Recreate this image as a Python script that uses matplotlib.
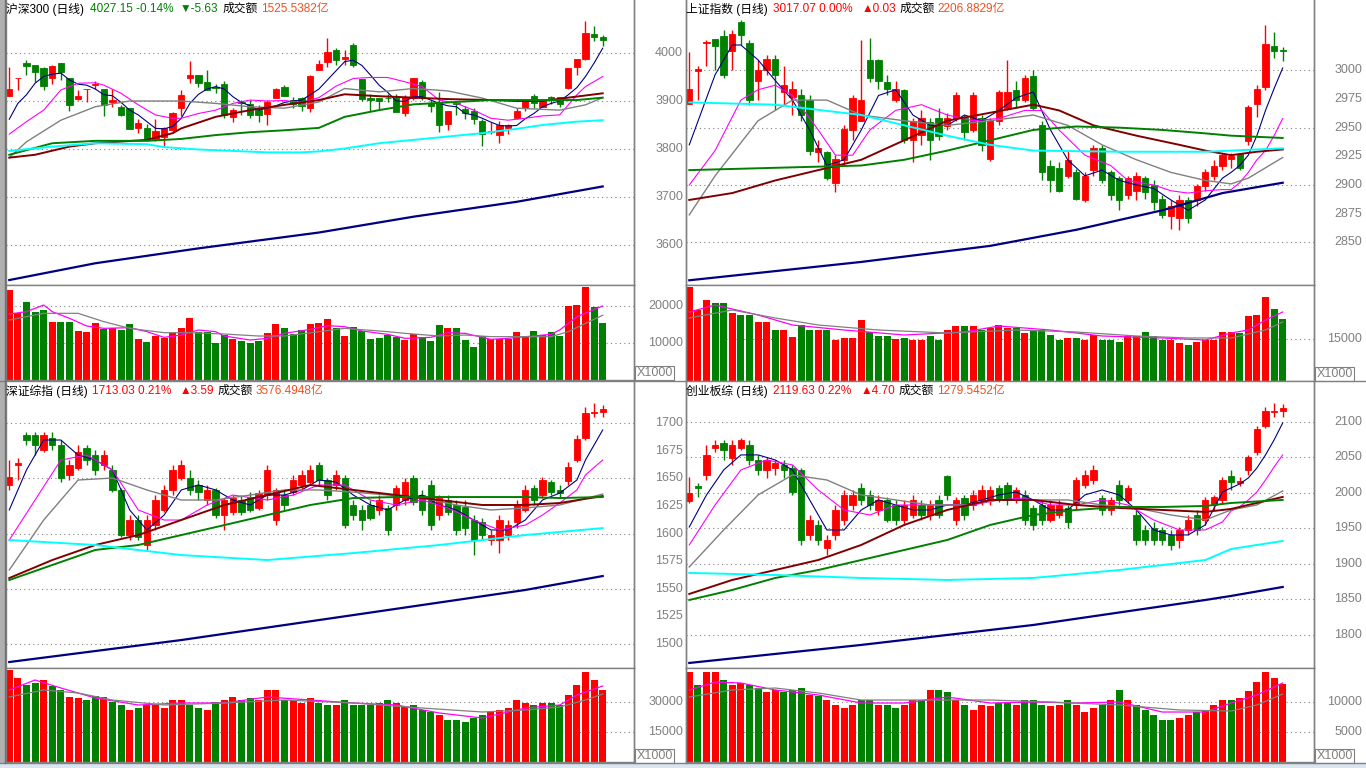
import matplotlib
matplotlib.use('Agg')
import matplotlib.pyplot as plt
from matplotlib.lines import Line2D
from matplotlib.patches import Rectangle
import numpy as np

W, H = 1366, 768
plt.rcParams['font.family'] = ['Liberation Sans', 'Noto Sans CJK SC', 'DejaVu Sans']

RED = '#ff0000'
GREEN = '#008000'
GRAY = '#808080'
ORANGE = '#f05020'

# ---------------- 沪深300 ----------------
hs300_open = [3911, 3947, 3980, 3976, 3969, 3947, 3980, 3948, 3904, 3924, 3934, 3925, 3897, 3887, 3885, 3843, 3843, 3820, 3824, 3840,
              3886, 3947, 3954, 3940, 3930, 3935, 3867, 3897, 3893, 3881, 3873, 3907, 3930, 3903, 3906, 3885, 3964, 3982, 4006, 3987,
              4017, 3946, 3906, 3906, 3907, 3906, 3876, 3906, 3939, 3895, 3895, 3853, 3895, 3883, 3879, 3858, 3836, 3829, 3843, 3865,
              3886, 3911, 3888, 3909, 3909, 3928, 3971, 3987, 4039, 4034]
hs300_high = [3971, 3948, 3985, 3976, 3971, 3975, 3980, 3948, 3923, 3925, 3942, 3925, 3925, 3892, 3885, 3862, 3853, 3862, 3845, 3878,
              3923, 3983, 3954, 3965, 3935, 3942, 3885, 3902, 3902, 3892, 3902, 3928, 3933, 3909, 3909, 3955, 3985, 4032, 4010, 4006,
              4021, 3946, 3914, 3907, 3914, 3914, 3912, 3947, 3944, 3902, 3918, 3879, 3897, 3890, 3885, 3862, 3857, 3858, 3853, 3885,
              3902, 3914, 3900, 3911, 3909, 3969, 3987, 4067, 4056, 4037]
hs300_low = [3911, 3923, 3954, 3940, 3923, 3935, 3944, 3879, 3902, 3897, 3925, 3869, 3888, 3869, 3842, 3834, 3817, 3817, 3807, 3833,
             3869, 3937, 3930, 3923, 3916, 3865, 3857, 3871, 3864, 3856, 3850, 3907, 3910, 3885, 3880, 3878, 3964, 3971, 3974, 3975,
             3971, 3899, 3879, 3883, 3897, 3878, 3869, 3902, 3902, 3878, 3835, 3840, 3871, 3862, 3853, 3807, 3831, 3812, 3831, 3862,
             3879, 3885, 3888, 3893, 3888, 3925, 3954, 3985, 4025, 4015]
hs300_close = [3925, 3948, 3973, 3961, 3932, 3973, 3960, 3892, 3911, 3925, 3935, 3892, 3902, 3871, 3842, 3855, 3818, 3837, 3843, 3876,
               3912, 3954, 3938, 3923, 3928, 3871, 3881, 3895, 3871, 3871, 3897, 3926, 3910, 3893, 3890, 3952, 3978, 4003, 3985, 3992,
               3974, 3904, 3903, 3900, 3906, 3878, 3908, 3947, 3909, 3890, 3851, 3879, 3893, 3876, 3862, 3831, 3838, 3851, 3850, 3879,
               3902, 3895, 3900, 3906, 3893, 3969, 3987, 4042, 4034, 4027]
hs300_vol = [24320, 18200, 21080, 18380, 18920, 15680, 15680, 15680, 13240, 12970, 15400, 13870, 14140, 13510, 15140, 11080, 10270, 11890, 11350, 12700,
             14050, 16760, 12970, 12970, 10000, 12160, 11080, 10540, 10000, 10540, 12700, 15140, 14050, 12430, 13510, 15140, 15400, 16490, 14050, 11890,
             14320, 13240, 11080, 11350, 12160, 11620, 10810, 12430, 11620, 10540, 14860, 14050, 14050, 10810, 8920, 11890, 11080, 11080, 11080, 12970,
             11620, 13240, 12160, 12970, 11890, 20090, 20360, 25220, 19820, 15400]
hs300_ma5 = [(0, 3862), (1, 3895), (2, 3913), (3, 3937), (4, 3951), (5, 3956), (6, 3958), (7, 3944), (8, 3935), (9, 3933),
             (10, 3925), (11, 3913), (12, 3911), (13, 3897), (14, 3881), (15, 3871), (16, 3857), (17, 3843), (18, 3842), (19, 3847),
             (20, 3864), (21, 3895), (22, 3914), (23, 3925), (24, 3930), (25, 3925), (26, 3909), (27, 3897), (28, 3890), (29, 3881),
             (30, 3885), (31, 3890), (32, 3897), (33, 3900), (34, 3902), (35, 3913), (36, 3925), (37, 3944), (38, 3963), (39, 3982),
             (40, 3985), (41, 3974), (42, 3954), (43, 3933), (44, 3918), (45, 3900), (46, 3899), (47, 3909), (48, 3909), (49, 3902),
             (50, 3895), (51, 3890), (52, 3888), (53, 3874), (54, 3871), (55, 3864), (56, 3856), (57, 3849), (58, 3848), (59, 3849),
             (60, 3863), (61, 3874), (62, 3888), (63, 3895), (64, 3900), (65, 3913), (66, 3928), (67, 3951), (68, 3979), (69, 4010)]
hs300_ma10 = [(0, 3831), (2, 3857), (4, 3881), (6, 3923), (8, 3937), (10, 3938), (11, 3933), (13, 3916), (15, 3892), (17, 3871),
              (19, 3864), (20, 3864), (22, 3874), (24, 3881), (26, 3895), (28, 3902), (30, 3900), (32, 3901), (34, 3897), (36, 3907),
              (38, 3931), (40, 3947), (42, 3949), (44, 3949), (46, 3940), (48, 3930), (50, 3902), (52, 3895), (54, 3881), (56, 3864),
              (58, 3860), (60, 3864), (62, 3869), (64, 3871), (65, 3892), (66, 3913), (67, 3930), (69, 3951)]
hs300_ma20 = [(0, 3782), (2, 3815), (6, 3860), (10, 3888), (14, 3900), (20, 3900), (24, 3895), (28, 3888), (32, 3885), (36, 3898),
              (39, 3926), (43, 3919), (47, 3926), (51, 3921), (55, 3906), (59, 3885), (64, 3881), (67, 3892), (69, 3907)]
hs300_ma30 = [(0, 3782), (3, 3788), (7, 3805), (10, 3812), (16, 3819), (19, 3833), (20, 3843), (24, 3867), (28, 3881), (32, 3892),
              (36, 3902), (39, 3914), (43, 3910), (47, 3907), (51, 3904), (56, 3902), (59, 3900), (62, 3900), (65, 3907), (69, 3916)]
hs300_ma60 = [(0, 3788), (5, 3812), (10, 3817), (16, 3817), (20, 3821), (24, 3829), (28, 3835), (32, 3839), (36, 3844), (39, 3867),
              (43, 3881), (47, 3893), (51, 3897), (56, 3902), (62, 3902), (66, 3902), (69, 3907)]
hs300_ma120 = [(0, 3796), (5, 3805), (10, 3812), (16, 3810), (18, 3804), (22, 3799), (26, 3796), (30, 3793), (34, 3793), (36, 3795),
               (39, 3801), (43, 3812), (47, 3819), (51, 3826), (55, 3833), (59, 3842), (62, 3850), (66, 3857), (69, 3860)]
hs300_ma250 = [(0, 3527), (10, 3562), (22, 3593), (36, 3626), (47, 3659), (59, 3690), (69, 3722)]
hs300_vma5 = [(0, 17840), (2, 18470), (4, 20270), (5, 18470), (7, 16670), (9, 14600), (11, 13960), (14, 14140), (16, 13060), (18, 11530),
              (20, 12160), (22, 13510), (24, 13060), (25, 11890), (28, 10810), (30, 11260), (32, 12610), (35, 13690), (37, 14690), (39, 14410),
              (41, 13240), (44, 12340), (46, 11260), (49, 11530), (51, 12790), (53, 12610), (56, 10990), (58, 11260), (60, 11710), (63, 12340),
              (64, 13510), (66, 17120), (69, 20000)]
hs300_vma10 = [(0, 16220), (4, 18020), (8, 18020), (11, 15770), (14, 13960), (18, 12790), (21, 12790), (25, 12430), (29, 11890), (32, 11890),
               (36, 13060), (39, 13960), (44, 13060), (46, 12610), (50, 11890), (53, 12160), (56, 11710), (59, 11710), (63, 11710), (65, 13060),
               (67, 15300), (69, 17500)]

# ---------------- 上证指数 ----------------
sh_open = [2971, 2999, 3024, 3027, 3030, 3017, 3042, 3024, 2991, 3000, 3010, 2981, 2977, 2978, 2974, 2929, 2929, 2902, 2922, 2948,
           2956, 3009, 3009, 2990, 2974, 2983, 2939, 2944, 2955, 2958, 2951, 2958, 2958, 2948, 2958, 2923, 2956, 2967, 2983, 2974,
           2995, 2952, 2917, 2915, 2908, 2911, 2887, 2913, 2932, 2911, 2906, 2891, 2895, 2906, 2900, 2888, 2873, 2871, 2887, 2887,
           2899, 2908, 2917, 2923, 2927, 2938, 2971, 2985, 3021, 3018]
sh_high = [3016, 3004, 3026, 3027, 3035, 3035, 3044, 3026, 3009, 3013, 3013, 3004, 2991, 2984, 2978, 2939, 2930, 2926, 2952, 2978,
           3026, 3028, 3010, 2996, 2991, 2984, 2958, 2965, 2958, 2967, 2963, 2981, 2961, 2981, 2961, 2958, 2983, 3009, 2991, 2996,
           3000, 2956, 2922, 2920, 2930, 2914, 2911, 2935, 2935, 2913, 2908, 2908, 2911, 2908, 2904, 2891, 2887, 2891, 2890, 2901,
           2914, 2922, 2928, 2928, 2928, 2970, 2987, 3039, 3033, 3020]
sh_low = [2971, 2974, 3004, 3000, 2993, 3000, 3022, 2970, 2974, 2996, 2965, 2970, 2961, 2956, 2926, 2920, 2904, 2894, 2917, 2939,
          2956, 2990, 2984, 2978, 2972, 2937, 2920, 2935, 2922, 2939, 2948, 2956, 2939, 2946, 2930, 2921, 2952, 2965, 2967, 2972,
          2965, 2904, 2894, 2894, 2906, 2887, 2885, 2908, 2902, 2887, 2878, 2888, 2887, 2888, 2878, 2871, 2862, 2861, 2867, 2882,
          2895, 2904, 2913, 2915, 2913, 2935, 2959, 2983, 3011, 3008]
sh_close = [2984, 3001, 3025, 3021, 2996, 3032, 3031, 2974, 3000, 3010, 2996, 2987, 2984, 2961, 2930, 2932, 2906, 2923, 2949, 2976,
            2974, 2993, 2991, 2984, 2984, 2939, 2956, 2958, 2939, 2943, 2958, 2978, 2946, 2978, 2935, 2956, 2981, 2981, 2974, 2993,
            2967, 2911, 2904, 2895, 2922, 2888, 2908, 2932, 2904, 2891, 2887, 2906, 2908, 2894, 2885, 2874, 2882, 2887, 2871, 2899,
            2911, 2917, 2926, 2925, 2915, 2968, 2984, 3023, 3017, 3017]
sh_vol = [33570, 25360, 28930, 27860, 27860, 24290, 23570, 23570, 21070, 21070, 18210, 18210, 15710, 20000, 18210, 18210, 18210, 14640, 15360, 15360,
          21790, 17500, 16070, 16070, 15000, 15360, 14640, 14640, 16070, 14640, 18210, 19640, 19640, 19640, 18210, 18930, 20000, 18930, 18930, 17140,
          18210, 18210, 16430, 14640, 15360, 15360, 14640, 16430, 14640, 14640, 13930, 16070, 16070, 17500, 16070, 14640, 14640, 13570, 12860, 13930,
          14640, 14640, 17500, 17500, 17140, 23210, 23570, 30000, 25710, 22140]
sh_ma5 = [(0, 2935), (3, 2996), (5, 3022), (6, 3022), (8, 3009), (10, 2991), (12, 2974), (14, 2948), (16, 2917), (18, 2922),
          (20, 2948), (22, 2978), (24, 2983), (26, 2961), (28, 2952), (30, 2952), (32, 2961), (34, 2956), (36, 2965), (38, 2976),
          (40, 2981), (42, 2948), (44, 2922), (46, 2908), (48, 2913), (50, 2904), (52, 2900), (54, 2897), (56, 2887), (58, 2878),
          (60, 2887), (62, 2906), (63, 2911), (64, 2917), (65, 2926), (66, 2943), (67, 2965), (68, 2984), (69, 3002)]
sh_ma10 = [(0, 2900), (3, 2930), (6, 2974), (8, 2983), (10, 2987), (12, 2978), (15, 2948), (17, 2926), (19, 2926), (21, 2948),
           (24, 2965), (27, 2970), (30, 2961), (33, 2956), (36, 2958), (39, 2965), (41, 2965), (43, 2948), (46, 2926), (49, 2917),
           (51, 2904), (54, 2900), (56, 2895), (58, 2893), (60, 2895), (62, 2896), (63, 2896), (64, 2902), (65, 2911), (66, 2922),
           (67, 2930), (68, 2943), (69, 2958)]
sh_ma20 = [(0, 2874), (3, 2908), (8, 2956), (12, 2974), (16, 2974), (20, 2961), (25, 2956), (30, 2952), (35, 2956), (40, 2961),
           (44, 2952), (48, 2935), (52, 2922), (56, 2911), (60, 2904), (63, 2901), (65, 2906), (67, 2915), (69, 2924)]
sh_ma30 = [(0, 2887), (5, 2893), (10, 2904), (15, 2913), (20, 2922), (25, 2939), (30, 2956), (35, 2963), (40, 2970), (43, 2965),
           (47, 2952), (52, 2943), (57, 2935), (60, 2930), (63, 2926), (66, 2929), (69, 2931)]
sh_ma60 = [(0, 2913), (10, 2915), (20, 2917), (25, 2922), (30, 2930), (35, 2939), (40, 2948), (45, 2951), (50, 2950), (55, 2948),
           (60, 2945), (63, 2943), (66, 2942), (69, 2941)]
sh_ma120 = [(0, 2972), (10, 2970), (20, 2961), (30, 2943), (35, 2935), (40, 2930), (50, 2929), (60, 2929), (69, 2932)]
sh_ma250 = [(0, 2817), (20, 2833), (35, 2847), (45, 2861), (55, 2878), (62, 2893), (69, 2902)]
sh_vma5 = [(0, 24640), (3, 27140), (8, 23570), (12, 20000), (18, 18210), (25, 16430), (32, 17500), (36, 19640), (42, 18210), (48, 16070),
           (55, 15360), (60, 14640), (63, 17140), (65, 18210), (67, 21790), (69, 24640)]
sh_vma10 = [(0, 22500), (5, 25360), (10, 22500), (15, 20000), (22, 18210), (30, 17140), (38, 18210), (45, 17500), (52, 16070), (58, 15360),
            (63, 15360), (67, 18210), (69, 21070)]

# ---------------- 深证综指 ----------------
sz_open = [1643.9, 1662.0, 1689.1, 1689.1, 1675.6, 1686.4, 1680.1, 1653.0, 1659.3, 1677.4, 1671.0, 1662.0, 1657.5, 1639.4, 1598.6, 1612.2, 1589.6, 1607.6, 1621.3, 1639.4,
           1650.2, 1650.2, 1643.9, 1630.3, 1639.4, 1616.7, 1619.4, 1630.3, 1633.0, 1623.1, 1634.8, 1612.2, 1634.8, 1637.5, 1643.9, 1646.6, 1662.0, 1648.4, 1643.9, 1650.2,
           1625.8, 1621.3, 1625.8, 1621.3, 1623.1, 1625.8, 1630.3, 1650.2, 1634.8, 1643.9, 1616.7, 1630.3, 1625.8, 1624.0, 1612.2, 1610.4, 1594.1, 1594.1, 1598.6, 1610.4,
           1621.3, 1641.2, 1634.8, 1646.6, 1639.4, 1647.5, 1666.5, 1686.4, 1709.1, 1710.0]
sz_high = [1666.5, 1668.3, 1691.8, 1691.8, 1691.8, 1691.8, 1684.6, 1666.5, 1680.1, 1680.1, 1675.6, 1675.6, 1662.0, 1641.2, 1616.7, 1616.7, 1616.7, 1634.8, 1643.9, 1662.0,
           1666.5, 1657.5, 1648.4, 1643.9, 1641.2, 1632.1, 1634.8, 1634.8, 1637.5, 1639.4, 1662.0, 1641.2, 1639.4, 1653.0, 1657.5, 1662.0, 1664.7, 1650.2, 1657.5, 1653.0,
           1630.3, 1625.8, 1630.3, 1634.8, 1625.8, 1643.9, 1650.2, 1653.0, 1639.4, 1648.4, 1634.8, 1634.8, 1630.3, 1630.3, 1616.7, 1614.0, 1603.2, 1616.7, 1612.2, 1630.3,
           1643.9, 1643.9, 1651.1, 1648.4, 1643.9, 1664.7, 1689.1, 1714.5, 1718.1, 1716.3]
sz_low = [1639.4, 1648.4, 1680.1, 1671.0, 1673.7, 1675.6, 1646.6, 1648.4, 1657.5, 1662.0, 1653.0, 1657.5, 1637.5, 1596.8, 1594.1, 1594.1, 1585.1, 1603.2, 1619.4, 1634.8,
          1648.4, 1634.8, 1630.3, 1625.8, 1614.0, 1603.2, 1616.7, 1616.7, 1619.4, 1621.3, 1630.3, 1607.6, 1621.3, 1634.8, 1639.4, 1643.9, 1643.9, 1630.3, 1639.4, 1604.9,
          1612.2, 1603.2, 1612.2, 1616.7, 1598.6, 1621.3, 1625.8, 1625.8, 1616.7, 1603.2, 1612.2, 1616.7, 1598.6, 1598.6, 1580.5, 1594.1, 1589.6, 1582.3, 1594.1, 1604.9,
          1619.4, 1625.8, 1632.1, 1634.8, 1633.0, 1643.9, 1664.7, 1684.6, 1705.4, 1705.4]
sz_close = [1651.1, 1663.8, 1684.6, 1680.1, 1689.1, 1680.1, 1650.2, 1662.0, 1673.7, 1666.5, 1657.5, 1671.0, 1639.4, 1598.6, 1612.2, 1596.8, 1612.2, 1630.3, 1639.4, 1657.5,
            1662.0, 1639.4, 1637.5, 1639.4, 1616.7, 1630.3, 1632.1, 1619.4, 1621.3, 1636.6, 1657.5, 1639.4, 1625.8, 1648.4, 1653.0, 1657.5, 1648.4, 1634.8, 1653.0, 1607.6,
            1616.7, 1612.2, 1614.0, 1630.3, 1603.2, 1641.2, 1646.6, 1628.5, 1621.3, 1607.6, 1632.1, 1619.4, 1603.2, 1605.0, 1594.1, 1598.6, 1598.6, 1612.2, 1607.6, 1625.8,
            1639.4, 1630.3, 1648.4, 1637.5, 1636.6, 1660.2, 1685.5, 1709.1, 1710.0, 1713.0]
sz_vol = [46000, 42000, 38500, 39500, 41000, 38000, 36000, 32500, 32000, 31000, 33000, 32500, 30000, 28500, 26000, 27000, 28500, 28500, 27000, 31000,
          31000, 28500, 27000, 26000, 30000, 31000, 32500, 31000, 32000, 31000, 36000, 36000, 31000, 31000, 29500, 32000, 29500, 28500, 28500, 31000,
          28500, 28500, 28500, 29500, 31000, 29500, 27500, 28500, 26000, 25000, 23500, 21000, 21000, 20000, 22000, 23500, 25000, 26000, 27000, 31000,
          29500, 28500, 29500, 29500, 28500, 33500, 38500, 45000, 41000, 36000]
sz_ma5 = [(0, 1621.3), (2, 1657.5), (4, 1684.6), (6, 1684.6), (8, 1671.0), (10, 1666.5), (12, 1657.5), (14, 1621.3), (16, 1603.2), (18, 1616.7),
          (20, 1639.4), (22, 1643.9), (24, 1639.4), (26, 1630.3), (28, 1625.8), (30, 1634.8), (32, 1634.8), (34, 1639.4), (36, 1648.4), (38, 1646.6),
          (40, 1634.8), (42, 1625.8), (44, 1621.3), (46, 1630.3), (48, 1634.8), (50, 1625.8), (52, 1621.3), (54, 1612.2), (56, 1603.2), (58, 1603.2),
          (60, 1612.2), (62, 1630.3), (64, 1636.6), (66, 1648.4), (67, 1666.5), (69, 1693.7)]
sz_ma10 = [(0, 1594.1), (3, 1630.3), (6, 1666.5), (9, 1671.0), (12, 1657.5), (15, 1621.3), (18, 1612.2), (20, 1612.2), (23, 1625.8), (26, 1634.8),
           (30, 1630.3), (33, 1634.8), (36, 1643.9), (39, 1643.9), (42, 1630.3), (45, 1625.8), (48, 1630.3), (51, 1623.1), (54, 1612.2), (57, 1603.2),
           (60, 1607.6), (62, 1616.7), (64, 1627.6), (66, 1639.4), (67, 1653.0), (69, 1666.5)]
sz_ma20 = [(0, 1567.0), (4, 1612.2), (8, 1648.4), (12, 1650.2), (16, 1639.4), (20, 1630.3), (24, 1630.3), (28, 1634.8), (32, 1639.4), (36, 1639.4),
           (40, 1637.5), (44, 1634.8), (48, 1632.1), (52, 1625.8), (56, 1621.3), (60, 1623.1), (64, 1625.8), (69, 1635.7)]
sz_ma30 = [(0, 1559.7), (5, 1576.0), (10, 1589.6), (15, 1598.6), (20, 1612.2), (25, 1625.8), (30, 1634.8), (35, 1643.9), (40, 1639.4), (45, 1634.8),
           (50, 1630.3), (55, 1625.8), (60, 1625.8), (64, 1627.6), (69, 1633.9)]
sz_ma60 = [(0, 1557.9), (5, 1571.5), (10, 1585.1), (15, 1589.6), (20, 1598.6), (25, 1607.6), (30, 1616.7), (35, 1625.8), (40, 1632.1), (45, 1633.0),
           (50, 1633.0), (55, 1633.0), (60, 1633.0), (64, 1632.1), (69, 1633.0)]
sz_ma120 = [(0, 1594.1), (10, 1589.6), (20, 1580.5), (30, 1576.0), (40, 1582.3), (50, 1589.6), (60, 1598.6), (69, 1604.9)]
sz_ma250 = [(0, 1483.7), (20, 1503.6), (40, 1526.2), (60, 1548.9), (69, 1561.5)]
sz_vma5 = [(0, 36000), (3, 41000), (6, 37000), (10, 32000), (15, 28500), (20, 29500), (25, 29500), (30, 32500), (35, 31000), (40, 29500),
           (45, 28500), (50, 24500), (55, 22000), (60, 27000), (64, 28500), (66, 33500), (69, 38000)]
sz_vma10 = [(0, 32500), (4, 36000), (8, 34500), (12, 31000), (18, 28500), (25, 29500), (32, 31000), (40, 29500), (48, 27000), (55, 25000),
            (60, 26000), (64, 27500), (67, 31000), (69, 34000)]

# ---------------- 创业板综 ----------------
cy_open = [1988.8, 2009.9, 2025.4, 2063.4, 2070.4, 2049.3, 2063.4, 2067.6, 2046.5, 2032.4, 2035.2, 2039.5, 2035.2, 2032.4, 1940.9, 1955.0, 1922.6, 1940.9, 1962.0, 1983.1,
           2007.1, 1997.2, 1976.1, 1990.2, 1983.1, 1962.0, 1969.0, 1983.1, 1969.0, 1990.2, 2024.0, 1962.0, 1993.0, 1983.1, 1990.2, 1990.2, 2007.1, 2011.3, 1990.2, 1997.2,
           1978.9, 1983.1, 1962.0, 1969.0, 1978.9, 1983.1, 2011.3, 2018.3, 1993.0, 1976.1, 2011.3, 1990.2, 1969.0, 1947.9, 1950.7, 1947.9, 1940.9, 1933.8, 1947.9, 1969.0,
           1962.0, 1983.1, 1990.2, 2024.0, 2014.1, 2032.4, 2057.8, 2094.4, 2114.1, 2115.5]
cy_high = [2022.5, 2014.1, 2067.6, 2074.7, 2074.7, 2074.7, 2077.5, 2074.7, 2053.6, 2050.7, 2046.5, 2046.5, 2039.5, 2035.2, 1969.0, 1962.0, 1940.9, 1983.1, 2004.2, 2004.2,
           2014.1, 2004.2, 1997.2, 1994.4, 1990.2, 1990.2, 1997.2, 1990.2, 1990.2, 1997.2, 2025.4, 1994.4, 1997.2, 2004.2, 2011.3, 2009.9, 2011.3, 2015.5, 2008.5, 2004.2,
           1983.1, 1990.2, 1990.2, 1990.2, 1983.1, 2022.5, 2032.4, 2039.5, 1997.2, 1994.4, 2018.3, 2011.3, 1976.1, 1955.0, 1959.2, 1952.1, 1947.9, 1952.1, 1969.0, 1976.1,
           1994.4, 1997.2, 2022.5, 2032.4, 2022.5, 2053.6, 2094.4, 2121.1, 2126.8, 2125.4]
cy_low = [1985.9, 1994.4, 2018.3, 2057.8, 2046.5, 2039.5, 2060.6, 2039.5, 2025.4, 2021.1, 2025.4, 2021.1, 1997.2, 1926.8, 1933.8, 1926.8, 1912.7, 1933.8, 1955.0, 1976.1,
          1983.1, 1976.1, 1969.0, 1959.2, 1955.0, 1955.0, 1964.8, 1962.0, 1962.0, 1964.8, 1990.2, 1955.0, 1962.0, 1976.1, 1983.1, 1983.1, 1987.4, 1983.1, 1985.9, 1955.0,
          1947.9, 1955.0, 1959.2, 1964.8, 1950.7, 1976.1, 2007.1, 2012.7, 1969.0, 1969.0, 1983.1, 1985.9, 1926.8, 1926.8, 1926.8, 1926.8, 1919.7, 1922.6, 1940.9, 1940.9,
          1955.0, 1976.1, 1985.9, 2004.2, 2009.9, 2025.4, 2053.6, 2091.6, 2107.1, 2107.1]
cy_close = [2000.0, 2007.1, 2053.6, 2067.6, 2060.6, 2067.6, 2074.7, 2046.5, 2032.4, 2046.5, 2042.3, 2032.4, 2001.4, 1933.8, 1962.0, 1933.8, 1933.8, 1976.1, 1997.2, 1997.2,
            1990.2, 1983.1, 1990.2, 1962.0, 1962.0, 1983.1, 1990.2, 1969.0, 1983.1, 1969.0, 1997.2, 1990.2, 1969.0, 1997.2, 2004.2, 2004.2, 1993.0, 1990.2, 2004.2, 1962.0,
            1955.0, 1962.0, 1983.1, 1983.1, 1959.2, 2018.3, 2025.4, 2032.4, 1976.1, 1990.2, 1990.2, 2007.1, 1933.8, 1933.8, 1933.8, 1933.8, 1926.8, 1947.9, 1962.0, 1947.9,
            1990.2, 1994.4, 2018.3, 2015.5, 2016.9, 2050.7, 2090.2, 2115.5, 2115.5, 2119.7]
cy_vol = [15000, 12830, 15000, 15000, 13670, 12830, 13170, 12830, 12330, 11670, 12000, 11670, 12000, 12330, 11170, 11000, 10330, 9500, 9000, 9500,
          10330, 10330, 9500, 9500, 9000, 9500, 10330, 10330, 12000, 12000, 11670, 10330, 9500, 8670, 9500, 9330, 9830, 9830, 9500, 10330,
          10330, 9500, 9330, 9500, 10330, 9500, 8330, 9000, 9500, 10330, 12000, 10330, 9500, 8670, 7830, 7000, 7000, 7330, 7830, 8330,
          8670, 9500, 10330, 10330, 10670, 11830, 13330, 15000, 14000, 13000]
cy_ma5 = [(0, 1952.1), (2, 1997.2), (4, 2032.4), (6, 2053.6), (8, 2053.6), (10, 2046.5), (12, 2032.4), (14, 1990.2), (16, 1947.9), (18, 1947.9),
          (20, 1976.1), (22, 1990.2), (24, 1983.1), (26, 1976.1), (28, 1976.1), (30, 1983.1), (32, 1983.1), (34, 1990.2), (36, 1997.2), (38, 2001.4),
          (40, 1990.2), (42, 1976.1), (44, 1976.1), (46, 1997.2), (48, 2004.2), (50, 1997.2), (52, 1976.1), (54, 1947.9), (56, 1940.9), (58, 1940.9),
          (60, 1955.0), (62, 2001.4), (63, 2007.1), (64, 2012.7), (65, 2021.1), (66, 2035.2), (67, 2053.6), (68, 2074.7), (69, 2098.6)]
cy_ma10 = [(0, 1926.8), (3, 1983.1), (6, 2032.4), (9, 2046.5), (12, 2039.5), (15, 2004.2), (18, 1976.1), (21, 1969.0), (24, 1983.1), (27, 1983.1),
           (30, 1983.1), (33, 1983.1), (36, 1990.2), (39, 1993.0), (42, 1983.1), (45, 1983.1), (48, 1990.2), (51, 1983.1), (54, 1962.0), (57, 1947.9),
           (60, 1947.9), (62, 1959.2), (63, 1974.7), (64, 1980.3), (65, 1990.2), (66, 2001.4), (67, 2018.3), (68, 2036.6), (69, 2053.6)]
cy_ma20 = [(0, 1895.8), (4, 1947.9), (8, 1997.2), (12, 2025.4), (16, 2018.3), (20, 1997.2), (24, 1990.2), (28, 1983.1), (32, 1983.1), (36, 1990.2),
           (40, 1990.2), (44, 1990.2), (48, 1983.1), (52, 1978.9), (56, 1969.0), (60, 1962.0), (63, 1976.1), (66, 1983.1), (69, 2002.8)]
cy_ma30 = [(0, 1857.8), (5, 1877.5), (10, 1891.5), (15, 1905.6), (20, 1926.8), (25, 1955.0), (30, 1976.1), (35, 1990.2), (40, 1990.2), (45, 1983.1),
           (50, 1978.9), (55, 1976.1), (60, 1973.3), (63, 1977.5), (69, 1994.4)]
cy_ma60 = [(0, 1849.3), (5, 1863.4), (10, 1880.3), (15, 1891.5), (20, 1905.6), (25, 1919.7), (30, 1933.8), (35, 1955.0), (40, 1969.0), (45, 1976.1),
           (50, 1980.3), (55, 1980.3), (60, 1981.7), (63, 1985.9), (69, 1990.2)]
cy_ma120 = [(0, 1887.4), (10, 1884.5), (20, 1880.3), (30, 1877.5), (40, 1880.3), (50, 1891.5), (60, 1905.6), (63, 1921.1), (69, 1932.4)]
cy_ma250 = [(0, 1760.6), (20, 1786.0), (40, 1814.1), (60, 1849.3), (63, 1855.0), (69, 1867.6)]
cy_vma5 = [(0, 12000), (3, 13330), (6, 13170), (10, 12000), (15, 11170), (20, 9830), (25, 9830), (30, 10830), (35, 9830), (40, 10000),
           (45, 9830), (50, 10000), (55, 8330), (60, 8330), (63, 9830), (66, 11170), (69, 13170)]
cy_vma10 = [(0, 10830), (5, 12000), (10, 12330), (15, 11500), (20, 10330), (28, 10330), (35, 10330), (42, 10000), (50, 9500), (57, 8670),
            (63, 8500), (66, 9500), (69, 11330)]

# ---------------- 标题 ----------------
hs300_title = [(6, '沪深300 (日线)', 'black'), (90, '4027.15 -0.14%', GREEN), (180, '▼-5.63', GREEN),
               (223, '成交额', 'black'), (261, '1525.5382亿', ORANGE)]
sh_title = [(686, '上证指数 (日线)', 'black'), (773, '3017.07 0.00%', RED), (862, '▲0.03', RED),
            (897, '成交额', 'black'), (935, '2206.8829亿', ORANGE)]
sz_title = [(6, '深证综指 (日线)', 'black'), (92, '1713.03 0.21%', RED), (180, '▲3.59', RED),
            (217, '成交额', 'black'), (256, '3576.4948亿', ORANGE)]
cy_title = [(686, '创业板综 (日线)', 'black'), (773, '2119.63 0.22%', RED), (861, '▲4.70', RED),
            (897, '成交额', 'black'), (935, '1279.5452亿', ORANGE)]

MA_STYLE = [('ma5', '#000080', 0.8), ('ma10', '#ff00ff', 0.8), ('ma20', GRAY, 1.0), ('ma30', '#800000', 1.4),
            ('ma60', GREEN, 1.4), ('ma120', '#00ffff', 1.4), ('ma250', '#000080', 1.6)]

fig = plt.figure(figsize=(W / 100, H / 100), dpi=100)
fig.patch.set_facecolor('white')
renderer = fig.canvas.get_renderer()


def px_axes(x0, y0, x1, y1):
    ax = fig.add_axes([x0 / W, 1 - y1 / H, (x1 - x0) / W, (y1 - y0) / H])
    ax.set_xticks([])
    ax.set_yticks([])
    for s in ax.spines.values():
        s.set_color(GRAY)
        s.set_linewidth(1)
    ax.set_xlim(-0.38, 72.64)
    return ax


def fig_line(x0, y0, x1, y1, color=GRAY, lw=1):
    fig.add_artist(Line2D([x0 / W, x1 / W], [1 - y0 / H, 1 - y1 / H], color=color, lw=lw,
                          transform=fig.transFigure))


def draw_panel(box, vbox, o, h, l, c, vol, mas, vmas, ylim, vlim, grid, labels, vgrid, vlabels, label_px):
    o, h, l, c = map(np.asarray, (o, h, l, c))
    x = np.arange(len(o))
    col = np.where(c >= o, RED, GREEN)

    ax = px_axes(*box)
    ax.spines['top'].set_visible(False)
    ax.set_ylim(*ylim)
    for g in grid:
        ax.axhline(g, color=GRAY, lw=0.8, ls=(0, (1, 3)), zorder=1)
    ax.vlines(x, l, h, colors=col, lw=1.0, zorder=2)
    ax.bar(x, np.abs(c - o), bottom=np.minimum(o, c), width=0.74, color=col,
           edgecolor=col, lw=0.6, zorder=2)
    for key, color, lw in MA_STYLE:
        pts = mas[key]
        ax.plot([p[0] for p in pts], [p[1] for p in pts], color=color, lw=lw, zorder=3)
    fx = (label_px - box[0]) / (box[2] - box[0])
    for v in labels:
        ax.text(fx, v, str(v), transform=ax.get_yaxis_transform(), ha='right', va='center',
                color=GRAY, fontsize=9, clip_on=False)

    vax = px_axes(*vbox)
    vax.set_ylim(*vlim)
    for g in vgrid:
        vax.axhline(g, color=GRAY, lw=0.8, ls=(0, (1, 3)), zorder=1)
    vax.bar(x, vol, width=0.8, color=col, lw=0, zorder=2)
    for key, color in (('vma5', '#ff00ff'), ('vma10', GRAY)):
        pts = vmas[key]
        vax.plot([p[0] for p in pts], [p[1] for p in pts], color=color, lw=0.9, zorder=3)
    for v in vlabels:
        vax.text(fx, v, str(v), transform=vax.get_yaxis_transform(), ha='right', va='center',
                 color=GRAY, fontsize=9, clip_on=False)


def draw_title(parts, y_px):
    # 每段文字按参考图的起点放置, 与前一段至少留 3 像素间距
    prev_end = 0
    for x_px, s, color in parts:
        x_px = max(x_px, prev_end + 3)
        t = fig.text(x_px / W, 1 - y_px / H, s, color=color, fontsize=8.5, ha='left', va='center')
        prev_end = t.get_window_extent(renderer).x1


# 沪深300
draw_panel((6, 0, 634, 285), (6, 285, 634, 380), hs300_open, hs300_high, hs300_low, hs300_close, hs300_vol,
           dict(ma5=hs300_ma5, ma10=hs300_ma10, ma20=hs300_ma20, ma30=hs300_ma30, ma60=hs300_ma60,
                ma120=hs300_ma120, ma250=hs300_ma250),
           dict(vma5=hs300_vma5, vma10=hs300_vma10),
           (3516.7, 4110.4), (0, 25676), [3600, 3700, 3800, 3900, 4000], [3600, 3700, 3800, 3900, 4000],
           [10000, 20000], [10000, 20000], 683)
# 上证指数
draw_panel((686, 0, 1314, 285), (686, 285, 1314, 381), sh_open, sh_high, sh_low, sh_close, sh_vol,
           dict(ma5=sh_ma5, ma10=sh_ma10, ma20=sh_ma20, ma30=sh_ma30, ma60=sh_ma60,
                ma120=sh_ma120, ma250=sh_ma250),
           dict(vma5=sh_vma5, vma10=sh_vma10),
           (2812.9, 3061.2), (0, 34286), [2850, 2900, 2950, 3000], [2850, 2875, 2900, 2925, 2950, 2975, 3000],
           [15000], [15000], 1362)
# 深证综指
draw_panel((6, 381, 634, 668), (6, 668, 634, 762), sz_open, sz_high, sz_low, sz_close, sz_vol,
           dict(ma5=sz_ma5, ma10=sz_ma10, ma20=sz_ma20, ma30=sz_ma30, ma60=sz_ma60,
                ma120=sz_ma120, ma250=sz_ma250),
           dict(vma5=sz_vma5, vma10=sz_vma10),
           (1478.3, 1738.0), (0, 47000), [1500, 1550, 1600, 1650, 1700],
           [1500, 1525, 1550, 1575, 1600, 1625, 1650, 1675, 1700],
           [15000, 30000], [15000, 30000], 683)
# 创业板综
draw_panel((686, 381, 1314, 668), (686, 668, 1314, 762), cy_open, cy_high, cy_low, cy_close, cy_vol,
           dict(ma5=cy_ma5, ma10=cy_ma10, ma20=cy_ma20, ma30=cy_ma30, ma60=cy_ma60,
                ma120=cy_ma120, ma250=cy_ma250),
           dict(vma5=cy_vma5, vma10=cy_vma10),
           (1753.5, 2157.7), (0, 15667), [1800, 1850, 1900, 1950, 2000, 2050, 2100],
           [1800, 1850, 1900, 1950, 2000, 2050, 2100],
           [5000, 10000], [5000, 10000], 1362)

# 框线和装饰
fig.add_artist(Rectangle((6 / W, 1 - 16 / H), 80 / W, 15 / H, facecolor='#00ffff', edgecolor='none',
                         transform=fig.transFigure, zorder=0))
draw_title(hs300_title, 9)
draw_title(sh_title, 9)
draw_title(sz_title, 391)
draw_title(cy_title, 391)

fig_line(0, 381, W, 381)
fig_line(0, 763, W, 763)
for xv in (634, 686, 1314):
    fig_line(xv, 0, xv, 763)
fig.add_artist(Rectangle((0, 1 - 763 / H), 5 / W, 763 / H, facecolor='#b0b0b0', edgecolor='none',
                         transform=fig.transFigure))
fig_line(5, 0, 5, 763, color='#707070')
fig.add_artist(Rectangle((0, 0), 1, 4 / H, facecolor='#dbe5f1', edgecolor='none', transform=fig.transFigure))

for bx, by in ((635, 366), (1315, 367), (635, 749), (1315, 749)):
    fig.add_artist(Rectangle((bx / W, 1 - (by + 14) / H), 39 / W, 14 / H, facecolor='white', edgecolor=GRAY,
                             lw=0.8, transform=fig.transFigure))
    fig.text((bx + 19.5) / W, 1 - (by + 7) / H, 'X1000', color=GRAY, fontsize=9, ha='center', va='center')

fig.savefig('out.png', dpi=100)
